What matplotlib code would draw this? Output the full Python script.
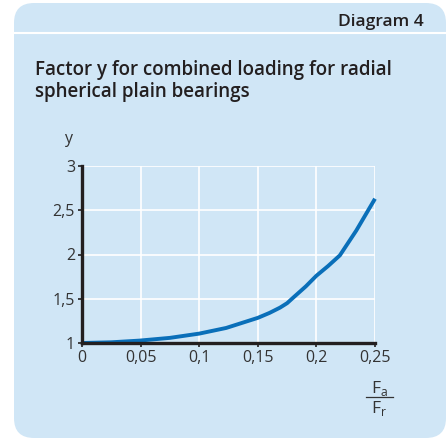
import matplotlib
matplotlib.use('Agg')
import matplotlib.pyplot as plt
from matplotlib.patches import FancyBboxPatch
from matplotlib.lines import Line2D

# curve
fa_fr = [0.0, 0.025, 0.049, 0.075, 0.1, 0.123, 0.15, 0.16, 0.169, 0.175, 0.18, 0.191, 0.2,
         0.21, 0.22, 0.234, 0.25]
y_factor = [1.0, 1.008, 1.027, 1.058, 1.106, 1.17, 1.284, 1.34, 1.40, 1.45, 1.51, 1.64, 1.76,
            1.87, 1.99, 2.27, 2.63]
x_ticks = [0, 0.05, 0.1, 0.15, 0.2, 0.25]
x_labels = ['0', '0,05', '0,1', '0,15', '0,2', '0,25']
y_ticks = [1, 1.5, 2, 2.5, 3]
y_labels = ['1', '1,5', '2', '2,5', '3']

bg = '#d0e6f6'
dark = '#231f20'
blue = '#0a6fb9'
txt = '#333333'
plt.rcParams['font.family'] = ['Open Sans', 'DejaVu Sans']

W, H = 447, 441
fig = plt.figure(figsize=(W / 100, H / 100), dpi=100)
fig.patch.set_facecolor('white')

# rounded panel behind everything
panel = FancyBboxPatch((14 / W, 1 - 438 / H), (446 - 14) / W, (438 - 3) / H,
                       boxstyle='round,pad=0,rounding_size=0.045',
                       transform=fig.transFigure, facecolor=bg, edgecolor='none', zorder=-10)
fig.patches.append(panel)
fig.add_artist(Line2D([14 / W, 446 / W], [1 - 33 / H, 1 - 33 / H], color='white', lw=1.5,
                      transform=fig.transFigure, zorder=-5))

fig.text(424 / W, 1 - 26 / H, 'Diagram 4', ha='right', va='baseline', fontsize=12.5,
         fontweight='semibold', color=dark)
fig.text(35 / W, 1 - 97 / H, 'Factor y for combined loading for radial\nspherical plain bearings',
         ha='left', va='baseline', fontsize=13.5, fontweight='semibold', color=dark,
         linespacing=1.15)

ax = fig.add_axes([82 / W, 1 - 343 / H, (375 - 82) / W, (343 - 166) / H])
ax.set_facecolor(bg)
ax.plot(fa_fr, y_factor, color=blue, lw=2.8, solid_capstyle='butt', solid_joinstyle='round',
        zorder=3, clip_on=False)
ax.set_xlim(0, 0.25)
ax.set_ylim(1, 3)
ax.set_xticks(x_ticks)
ax.set_xticklabels(x_labels)
ax.set_yticks(y_ticks)
ax.set_yticklabels(y_labels)
ax.grid(True, color='white', lw=1.2)
ax.set_axisbelow(True)
for s in ['top', 'right']:
    ax.spines[s].set_visible(False)
for s in ['left', 'bottom']:
    ax.spines[s].set_color(dark)
    ax.spines[s].set_linewidth(2.4)
    ax.spines[s].set_zorder(4)
ax.tick_params(colors=dark, labelcolor=txt, labelsize=11.5, length=3, width=1.2,
               direction='out', pad=2)

fig.text(68 / W, 1 - 143 / H, 'y', ha='center', va='baseline', fontsize=11.5, color=txt)
fig.text(379 / W, 1 - 393 / H, r'F$_\mathregular{a}$', ha='center', va='baseline',
         fontsize=12.5, color=txt)
fig.text(379 / W, 1 - 413 / H, r'F$_\mathregular{r}$', ha='center', va='baseline',
         fontsize=12.5, color=txt)
fig.add_artist(Line2D([366 / W, 393 / W], [1 - 397 / H, 1 - 397 / H], color=txt, lw=0.9,
                      transform=fig.transFigure))

fig.savefig('out.png', dpi=100, facecolor='white')
